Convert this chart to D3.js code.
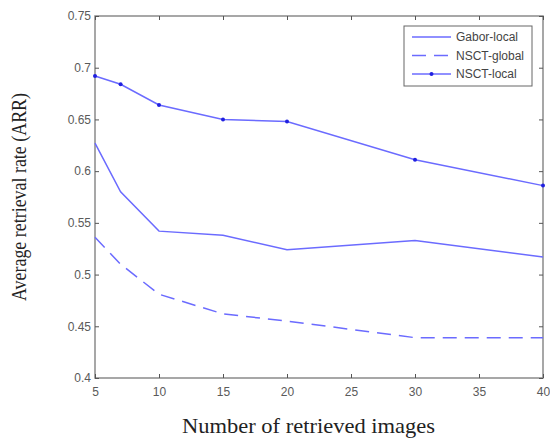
<!DOCTYPE html>
<html>
<head>
<meta charset="utf-8">
<script src="https://cdn.jsdelivr.net/npm/d3@7"></script>
<style>
  html, body { margin: 0; padding: 0; background: #fff; }
  svg { display: block; }
</style>
</head>
<body>
<svg id="chart" width="550" height="441"></svg>
<script>
// Number of retrieved images
const retrieved = [5, 7, 10, 15, 20, 30, 40];
// Average retrieval rate per method
const gaborLocal = [0.627, 0.580, 0.542, 0.538, 0.524, 0.533, 0.517];
const nsctGlobal = [0.536, 0.510, 0.481, 0.462, 0.455, 0.439, 0.439];
const nsctLocal  = [0.692, 0.684, 0.664, 0.650, 0.648, 0.611, 0.586];
const seriesNames = ["Gabor-local", "NSCT-global", "NSCT-local"];
const xTicks = [5, 10, 15, 20, 25, 30, 35, 40];
const yTicks = [0.4, 0.45, 0.5, 0.55, 0.6, 0.65, 0.7, 0.75];

const svg = d3.select("#chart");
const m = { left: 95, right: 5, top: 16, bottom: 63 };
const W = 550, H = 441;
const x = d3.scaleLinear().domain([5, 40]).range([m.left, W - m.right - 2]);
const y = d3.scaleLinear().domain([0.4, 0.75]).range([H - m.bottom, m.top]);

const lineColor = "#6b6bff";
const axisColor = "#8a8a8a";
const tickFont = "Arial, 'Liberation Sans', sans-serif";
const titleFont = "'Liberation Serif', 'Times New Roman', serif";

// Frame (box around plot)
const x0 = x(5), x1 = x(40), y0 = y(0.4), y1 = y(0.75);
svg.append("rect")
  .attr("x", x0).attr("y", y1).attr("width", x1 - x0).attr("height", y0 - y1)
  .attr("fill", "none").attr("stroke", axisColor).attr("stroke-width", 1.5);

// Inner ticks on all four sides
const tickLen = 4;
const xAxisB = d3.axisBottom(x).tickValues(xTicks).tickSizeInner(-tickLen).tickSizeOuter(0).tickPadding(9);
const xAxisT = d3.axisTop(x).tickValues(xTicks).tickSizeInner(-tickLen).tickSizeOuter(0).tickFormat("");
const yAxisL = d3.axisLeft(y).tickValues(yTicks).tickSizeInner(-tickLen).tickSizeOuter(0).tickPadding(4)
  .tickFormat(d => String(+d.toFixed(2)));
const yAxisR = d3.axisRight(y).tickValues(yTicks).tickSizeInner(-tickLen).tickSizeOuter(0).tickFormat("");

function styleAxis(g) {
  g.select(".domain").remove();
  g.selectAll(".tick line").attr("stroke", "#555").attr("stroke-width", 1);
  g.selectAll(".tick text").attr("fill", "#5a5a5a").attr("font-family", tickFont).attr("font-size", 12);
}
svg.append("g").attr("transform", `translate(0,${y0})`).call(xAxisB).call(styleAxis);
svg.append("g").attr("transform", `translate(0,${y1})`).call(xAxisT).call(styleAxis);
svg.append("g").attr("transform", `translate(${x0},0)`).call(yAxisL).call(styleAxis);
svg.append("g").attr("transform", `translate(${x1},0)`).call(yAxisR).call(styleAxis);

// Series lines
const line = d3.line().x(d => x(d[0])).y(d => y(d[1]));
const series = [
  { name: seriesNames[0], values: gaborLocal, dash: null, marker: false },
  { name: seriesNames[1], values: nsctGlobal, dash: "14,8", marker: false },
  { name: seriesNames[2], values: nsctLocal, dash: null, marker: true }
];
series.forEach(s => {
  const pts = retrieved.map((r, i) => [r, s.values[i]]);
  svg.append("path").datum(pts)
    .attr("d", line).attr("fill", "none")
    .attr("stroke", lineColor).attr("stroke-width", 1.5)
    .attr("stroke-dasharray", s.dash);
  if (s.marker) {
    svg.append("g").selectAll("circle").data(pts).join("circle")
      .attr("cx", d => x(d[0])).attr("cy", d => y(d[1])).attr("r", 2)
      .attr("fill", "#2020e0");
  }
});

// Legend
const lg = svg.append("g").attr("transform", "translate(404,26)");
lg.append("rect").attr("width", 128).attr("height", 60)
  .attr("fill", "#fff").attr("stroke", "#666").attr("stroke-width", 1);
series.forEach((s, i) => {
  const yy = 11 + i * 18.5;
  lg.append("line").attr("x1", 8).attr("x2", 47).attr("y1", yy).attr("y2", yy)
    .attr("stroke", lineColor).attr("stroke-width", 1.5)
    .attr("stroke-dasharray", s.dash ? "14,8" : null);
  if (s.marker) {
    lg.append("circle").attr("cx", 27.5).attr("cy", yy).attr("r", 2).attr("fill", "#2020e0");
  }
  lg.append("text").attr("x", 52).attr("y", yy + 4)
    .attr("font-family", tickFont).attr("font-size", 12).attr("fill", "#444")
    .text(s.name);
});

// Axis titles
svg.append("text")
  .attr("x", 308.5).attr("y", 433)
  .attr("text-anchor", "middle")
  .attr("font-family", titleFont)
  .attr("font-size", 22).attr("fill", "#222")
  .attr("textLength", 253).attr("lengthAdjust", "spacingAndGlyphs")
  .text("Number of retrieved images");
svg.append("text")
  .attr("transform", `translate(26,${(y0 + y1) / 2}) rotate(-90)`)
  .attr("text-anchor", "middle")
  .attr("font-family", titleFont)
  .attr("font-size", 22).attr("fill", "#222")
  .attr("textLength", 208).attr("lengthAdjust", "spacingAndGlyphs")
  .text("Average retrieval rate (ARR)");
</script>
</body>
</html>
